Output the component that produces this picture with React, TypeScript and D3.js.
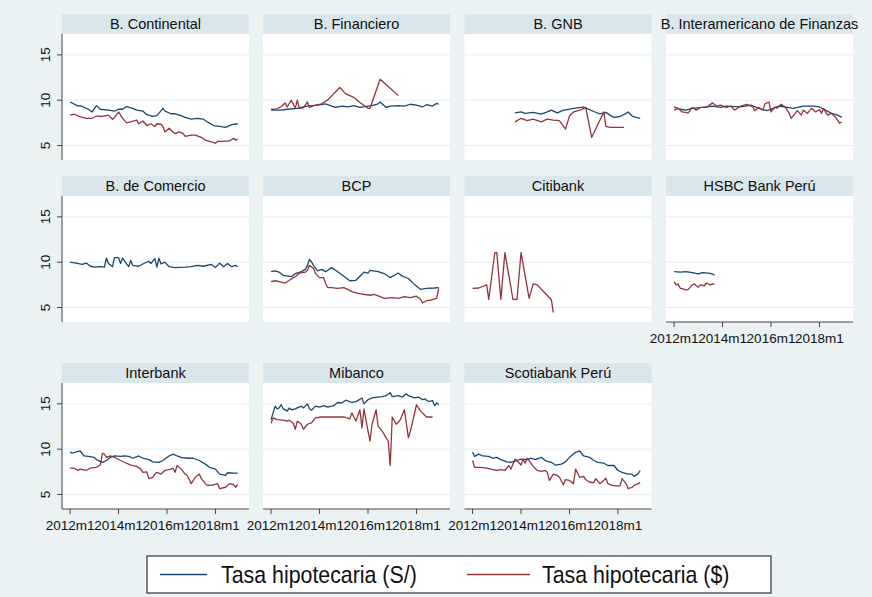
import React from "react";
import * as d3 from "d3";

type Pt = [string, number];

const seriesNames = ["Tasa hipotecaria (S/)", "Tasa hipotecaria ($)"];
const seriesColors = ["#1a476f", "#90353b"];
const yTicks = [5, 10, 15];
const xTicks = ["2012m1", "2014m1", "2016m1", "2018m1"];

// B. Continental
const contSol: Pt[] = [
  ["2012m1", 9.8], ["2012m5", 9.35], ["2012m6", 9.4], ["2012m10", 9.0], ["2012m12", 8.7],
  ["2013m2", 9.4], ["2013m4", 9.0], ["2013m8", 8.9], ["2013m11", 8.8], ["2014m1", 9.0],
  ["2014m3", 9.0], ["2014m5", 9.3], ["2014m8", 9.1], ["2014m10", 8.9], ["2015m1", 8.8],
  ["2015m3", 8.4], ["2015m6", 8.2], ["2015m8", 8.3], ["2015m11", 9.1], ["2015m12", 8.8],
  ["2016m3", 8.5], ["2016m5", 8.5], ["2016m8", 8.3], ["2016m10", 8.1], ["2017m1", 7.9],
  ["2017m4", 8.0], ["2017m7", 7.9], ["2017m9", 7.6], ["2017m12", 7.2], ["2018m3", 7.1],
  ["2018m6", 7.0], ["2018m9", 7.3], ["2018m12", 7.4],
];
const contUsd: Pt[] = [
  ["2012m1", 8.35], ["2012m3", 8.45], ["2012m6", 8.15], ["2012m9", 8.0], ["2012m12", 8.0],
  ["2013m2", 8.25], ["2013m5", 8.2], ["2013m8", 8.35], ["2013m10", 7.9], ["2013m11", 8.1],
  ["2014m1", 8.7], ["2014m3", 8.0], ["2014m5", 7.5], ["2014m7", 7.6], ["2014m10", 7.8],
  ["2014m11", 7.4], ["2015m1", 7.7], ["2015m3", 7.2], ["2015m5", 7.4], ["2015m7", 7.1],
  ["2015m8", 7.4], ["2015m10", 7.35], ["2015m11", 7.1], ["2015m12", 6.5], ["2016m2", 6.9],
  ["2016m4", 6.5], ["2016m5", 6.3], ["2016m7", 6.5], ["2016m9", 6.3], ["2016m10", 6.0],
  ["2017m1", 6.15], ["2017m3", 6.15], ["2017m6", 5.9], ["2017m8", 5.6], ["2017m11", 5.4],
  ["2018m1", 5.25], ["2018m2", 5.45], ["2018m5", 5.45], ["2018m8", 5.5], ["2018m10", 5.8],
  ["2018m11", 5.6], ["2018m12", 5.7],
];

// B. Financiero
const finSol: Pt[] = [
  ["2012m1", 8.9], ["2012m6", 8.9], ["2012m9", 9.0], ["2013m2", 9.1], ["2013m5", 9.25],
  ["2013m7", 9.35], ["2013m12", 9.45], ["2014m4", 9.6], ["2014m7", 9.35], ["2014m9", 9.2],
  ["2014m12", 9.35], ["2015m3", 9.25], ["2015m6", 9.4], ["2015m9", 9.2], ["2016m1", 9.35],
  ["2016m3", 9.4], ["2016m6", 9.6], ["2016m7", 9.8], ["2016m10", 9.2], ["2016m12", 9.35],
  ["2017m4", 9.4], ["2017m7", 9.35], ["2017m10", 9.55], ["2018m1", 9.45], ["2018m4", 9.25],
  ["2018m6", 9.5], ["2018m9", 9.35], ["2018m11", 9.65], ["2018m12", 9.55],
];
const finUsd: Pt[] = [
  ["2012m1", 9.0], ["2012m4", 9.05], ["2012m6", 9.3], ["2012m8", 9.7], ["2012m9", 9.25],
  ["2012m11", 10.0], ["2013m1", 9.1], ["2013m2", 10.0], ["2013m3", 9.1], ["2013m5", 9.15],
  ["2013m7", 9.8], ["2013m8", 9.2], ["2013m10", 9.4], ["2014m2", 9.6], ["2014m5", 10.0],
  ["2014m11", 11.4], ["2015m2", 10.7], ["2015m6", 10.3], ["2015m9", 9.75], ["2016m1", 9.1],
  ["2016m2", 9.1], ["2016m7", 12.3], ["2016m11", 11.5], ["2017m4", 10.5],
];

// B. GNB
const gnbSol: Pt[] = [
  ["2013m10", 8.6], ["2014m1", 8.7], ["2014m3", 8.55], ["2014m7", 8.65], ["2014m11", 8.45],
  ["2015m2", 8.7], ["2015m4", 8.9], ["2015m7", 8.6], ["2015m10", 8.9], ["2016m1", 9.0],
  ["2016m3", 9.1], ["2016m7", 9.2], ["2016m8", 9.25], ["2016m10", 9.05], ["2017m1", 8.75],
  ["2017m4", 8.5], ["2017m7", 8.65], ["2017m9", 8.35], ["2017m11", 8.1], ["2018m2", 8.2],
  ["2018m5", 8.55], ["2018m6", 8.7], ["2018m8", 8.25], ["2018m10", 8.1], ["2018m12", 8.0],
];
const gnbUsd: Pt[] = [
  ["2013m10", 7.6], ["2014m1", 8.0], ["2014m4", 7.75], ["2014m7", 7.9], ["2014m11", 7.6],
  ["2015m2", 7.9], ["2015m5", 7.8], ["2015m8", 7.75], ["2015m11", 6.8], ["2016m1", 8.25],
  ["2016m3", 8.7], ["2016m7", 8.95], ["2016m9", 9.2], ["2016m12", 5.9], ["2017m6", 8.7],
  ["2017m7", 7.1], ["2017m9", 7.0], ["2018m4", 7.0],
];

// B. Interamericano de Finanzas
const bifSol: Pt[] = [
  ["2012m1", 9.25], ["2012m4", 9.0], ["2012m7", 8.9], ["2012m10", 9.1], ["2013m3", 9.2],
  ["2013m8", 9.35], ["2013m12", 9.2], ["2014m3", 9.35], ["2014m10", 9.25], ["2015m3", 9.45],
  ["2015m8", 9.0], ["2015m11", 8.85], ["2016m2", 9.1], ["2016m5", 9.35], ["2016m9", 9.2],
  ["2016m12", 9.1], ["2017m5", 9.35], ["2017m10", 9.35], ["2018m1", 9.25], ["2018m4", 8.9],
  ["2018m7", 8.55], ["2018m10", 8.35], ["2018m12", 8.1],
];
const bifUsd: Pt[] = [
  ["2012m1", 8.9], ["2012m3", 9.1], ["2012m5", 8.7], ["2012m8", 8.6], ["2012m10", 9.2],
  ["2012m12", 8.9], ["2013m2", 9.2], ["2013m5", 9.2], ["2013m8", 9.7], ["2013m10", 9.35],
  ["2013m12", 9.45], ["2014m3", 9.2], ["2014m5", 9.35], ["2014m7", 8.9], ["2014m10", 9.35],
  ["2015m1", 9.55], ["2015m4", 9.25], ["2015m5", 8.85], ["2015m7", 9.2], ["2015m9", 8.9],
  ["2015m10", 9.6], ["2015m12", 9.8], ["2016m1", 8.7], ["2016m3", 9.25], ["2016m4", 9.1],
  ["2016m6", 9.55], ["2016m8", 9.25], ["2016m10", 8.55], ["2016m11", 8.0], ["2017m1", 8.55],
  ["2017m2", 8.85], ["2017m4", 8.35], ["2017m5", 8.9], ["2017m7", 8.55], ["2017m9", 9.1],
  ["2017m11", 8.7], ["2018m1", 8.95], ["2018m2", 8.55], ["2018m3", 9.1], ["2018m5", 8.35],
  ["2018m7", 8.55], ["2018m9", 8.1], ["2018m11", 7.45], ["2018m12", 7.6],
];

// B. de Comercio
const comSol: Pt[] = [
  ["2012m1", 10.0], ["2012m4", 9.9], ["2012m7", 9.75], ["2012m9", 9.9], ["2012m11", 9.55],
  ["2013m1", 9.45], ["2013m4", 9.5], ["2013m6", 9.45], ["2013m7", 10.45], ["2013m8", 9.85],
  ["2013m10", 9.5], ["2013m11", 10.5], ["2014m1", 10.5], ["2014m2", 9.85], ["2014m3", 10.45],
  ["2014m5", 9.8], ["2014m6", 9.5], ["2014m7", 10.2], ["2014m8", 9.65], ["2014m11", 9.55],
  ["2015m1", 9.8], ["2015m4", 10.1], ["2015m5", 9.85], ["2015m7", 10.4], ["2015m8", 9.45],
  ["2015m9", 10.45], ["2015m10", 9.8], ["2015m12", 10.0], ["2016m2", 9.5], ["2016m5", 9.4],
  ["2016m10", 9.45], ["2017m1", 9.5], ["2017m4", 9.65], ["2017m7", 9.55], ["2017m11", 9.75],
  ["2018m1", 9.4], ["2018m3", 9.9], ["2018m5", 9.5], ["2018m7", 9.85], ["2018m9", 9.5],
  ["2018m11", 9.65], ["2018m12", 9.5],
];

// BCP
const bcpSol: Pt[] = [
  ["2012m1", 8.95], ["2012m3", 9.05], ["2012m5", 8.9], ["2012m7", 8.55], ["2012m11", 8.4],
  ["2013m1", 8.75], ["2013m4", 8.95], ["2013m6", 9.2], ["2013m7", 9.65], ["2013m8", 10.3],
  ["2013m9", 10.05], ["2013m10", 9.65], ["2013m12", 9.05], ["2014m2", 9.2], ["2014m4", 8.95],
  ["2014m7", 9.4], ["2014m10", 8.95], ["2015m1", 8.45], ["2015m4", 7.95], ["2015m7", 8.0],
  ["2015m9", 8.45], ["2015m11", 8.9], ["2016m1", 8.8], ["2016m2", 9.1], ["2016m6", 8.95],
  ["2016m9", 8.75], ["2016m12", 8.3], ["2017m4", 8.8], ["2017m6", 8.45], ["2017m9", 8.2],
  ["2017m12", 7.55], ["2018m3", 7.0], ["2018m6", 7.1], ["2018m10", 7.15], ["2018m12", 7.2],
];
const bcpUsd: Pt[] = [
  ["2012m1", 7.85], ["2012m3", 7.95], ["2012m5", 7.85], ["2012m8", 7.7], ["2012m10", 8.0],
  ["2013m1", 8.4], ["2013m3", 8.8], ["2013m6", 8.9], ["2013m7", 9.1], ["2013m8", 9.65],
  ["2013m10", 9.3], ["2013m11", 8.75], ["2014m1", 8.3], ["2014m3", 8.3], ["2014m4", 7.65],
  ["2014m5", 7.2], ["2014m7", 7.2], ["2014m10", 7.1], ["2015m1", 7.2], ["2015m3", 7.0],
  ["2015m5", 6.75], ["2015m8", 6.55], ["2015m11", 6.45], ["2016m2", 6.35], ["2016m4", 6.45],
  ["2016m7", 6.2], ["2016m9", 6.0], ["2017m1", 6.1], ["2017m4", 6.0], ["2017m7", 6.2],
  ["2017m10", 6.1], ["2018m1", 6.25], ["2018m3", 5.9], ["2018m4", 5.5], ["2018m6", 5.75],
  ["2018m8", 5.8], ["2018m11", 6.0], ["2018m12", 7.1],
];

// Citibank
const citiUsd: Pt[] = [
  ["2012m1", 7.1], ["2012m4", 7.15], ["2012m8", 7.5], ["2012m9", 5.9], ["2012m12", 11.05],
  ["2013m1", 11.05], ["2013m3", 5.9], ["2013m5", 11.05], ["2013m9", 5.9], ["2013m11", 5.9],
  ["2014m1", 11.05], ["2014m5", 6.0], ["2014m7", 7.6], ["2014m9", 7.5], ["2014m12", 6.8],
  ["2015m4", 5.85], ["2015m5", 4.45],
];

// HSBC Bank Perú
const hsbcSol: Pt[] = [
  ["2012m1", 8.95], ["2012m4", 8.9], ["2012m7", 8.95], ["2012m10", 8.85], ["2013m1", 8.7],
  ["2013m3", 8.85], ["2013m6", 8.8], ["2013m8", 8.7], ["2013m9", 8.55],
];
const hsbcUsd: Pt[] = [
  ["2012m1", 7.85], ["2012m2", 7.5], ["2012m3", 7.6], ["2012m4", 7.15], ["2012m7", 6.95],
  ["2012m8", 7.0], ["2012m10", 7.5], ["2012m11", 7.6], ["2012m12", 7.4], ["2013m1", 7.25],
  ["2013m2", 7.5], ["2013m4", 7.4], ["2013m5", 7.7], ["2013m7", 7.5], ["2013m8", 7.6],
  ["2013m9", 7.55],
];

// Interbank
const ibkSol: Pt[] = [
  ["2012m1", 9.7], ["2012m2", 9.55], ["2012m4", 9.7], ["2012m6", 9.8], ["2012m8", 9.25],
  ["2012m10", 9.2], ["2013m1", 9.1], ["2013m2", 8.85], ["2013m5", 8.55], ["2013m7", 8.75],
  ["2013m9", 9.1], ["2013m11", 9.25], ["2014m2", 9.2], ["2014m4", 9.25], ["2014m6", 9.2],
  ["2014m8", 9.0], ["2014m11", 9.25], ["2015m1", 9.0], ["2015m4", 8.85], ["2015m6", 8.6],
  ["2015m9", 8.55], ["2015m11", 8.75], ["2016m2", 9.25], ["2016m4", 9.45], ["2016m6", 9.25],
  ["2016m8", 9.1], ["2016m11", 9.0], ["2017m2", 9.0], ["2017m5", 8.75], ["2017m8", 8.35],
  ["2017m10", 8.0], ["2018m1", 7.8], ["2018m3", 7.25], ["2018m6", 7.1], ["2018m7", 7.4],
  ["2018m10", 7.35], ["2018m12", 7.35],
];
const ibkUsd: Pt[] = [
  ["2012m1", 7.9], ["2012m3", 7.9], ["2012m5", 7.65], ["2012m6", 7.8], ["2012m9", 7.65],
  ["2012m11", 7.9], ["2013m2", 8.0], ["2013m4", 8.25], ["2013m5", 9.55], ["2013m6", 9.45],
  ["2013m7", 9.1], ["2013m9", 9.25], ["2013m12", 9.0], ["2014m2", 8.75], ["2014m5", 8.45],
  ["2014m7", 8.25], ["2014m10", 8.1], ["2014m12", 7.8], ["2015m1", 7.45], ["2015m3", 7.5],
  ["2015m4", 6.75], ["2015m6", 6.9], ["2015m7", 7.25], ["2015m8", 7.45], ["2015m10", 7.25],
  ["2015m12", 7.65], ["2016m3", 7.8], ["2016m4", 7.9], ["2016m5", 7.45], ["2016m6", 8.2],
  ["2016m8", 7.8], ["2016m10", 7.25], ["2016m11", 7.1], ["2017m1", 6.2], ["2017m3", 6.9],
  ["2017m5", 7.25], ["2017m6", 6.75], ["2017m8", 6.2], ["2017m9", 6.0], ["2017m12", 6.05],
  ["2018m2", 6.2], ["2018m3", 5.65], ["2018m6", 5.8], ["2018m8", 6.2], ["2018m10", 6.1],
  ["2018m11", 5.8], ["2018m12", 6.1],
];

// Mibanco
const miSol: Pt[] = [
  ["2012m1", 13.25], ["2012m2", 14.0], ["2012m3", 14.75], ["2012m4", 14.45], ["2012m5", 14.55],
  ["2012m6", 14.9], ["2012m7", 14.45], ["2012m9", 14.2], ["2012m10", 14.55], ["2012m11", 14.35],
  ["2013m1", 14.45], ["2013m2", 14.55], ["2013m4", 14.75], ["2013m5", 14.55], ["2013m7", 15.0],
  ["2013m8", 14.45], ["2013m9", 14.3], ["2013m11", 14.75], ["2014m1", 14.65], ["2014m3", 14.8],
  ["2014m5", 14.65], ["2014m8", 14.8], ["2014m10", 15.15], ["2014m12", 15.1], ["2015m2", 15.4],
  ["2015m5", 15.15], ["2015m7", 15.25], ["2015m10", 15.65], ["2015m11", 15.0], ["2016m1", 15.45],
  ["2016m3", 15.65], ["2016m6", 15.75], ["2016m8", 15.8], ["2016m10", 15.9], ["2016m12", 16.25],
  ["2017m1", 15.8], ["2017m4", 15.9], ["2017m6", 15.75], ["2017m8", 16.1], ["2017m9", 15.9],
  ["2017m12", 15.65], ["2018m2", 15.75], ["2018m4", 15.45], ["2018m5", 15.55], ["2018m7", 15.25],
  ["2018m9", 15.35], ["2018m10", 14.8], ["2018m11", 15.1], ["2018m12", 14.9],
];
const miUsd: Pt[] = [
  ["2012m1", 12.85], ["2012m2", 13.45], ["2012m4", 13.25], ["2012m7", 13.2], ["2012m9", 13.1],
  ["2012m10", 13.2], ["2012m12", 12.85], ["2013m1", 12.2], ["2013m2", 13.1], ["2013m4", 12.75],
  ["2013m5", 12.2], ["2013m7", 12.75], ["2013m9", 12.9], ["2013m11", 13.45], ["2014m2", 13.55],
  ["2014m5", 13.55], ["2014m8", 13.55], ["2015m1", 13.55], ["2015m4", 13.35], ["2015m5", 14.0],
  ["2015m7", 13.1], ["2015m9", 14.35], ["2015m10", 12.35], ["2015m11", 14.45], ["2016m1", 12.0],
  ["2016m2", 10.9], ["2016m3", 12.75], ["2016m5", 14.35], ["2016m6", 12.55], ["2016m8", 12.0],
  ["2016m10", 11.25], ["2016m11", 10.9], ["2016m12", 8.2], ["2017m1", 13.55], ["2017m3", 12.75],
  ["2017m5", 13.25], ["2017m7", 14.35], ["2017m9", 11.25], ["2017m10", 12.0], ["2018m1", 14.9],
  ["2018m3", 14.2], ["2018m6", 13.55], ["2018m9", 13.55],
];

// Scotiabank Perú
const scoSol: Pt[] = [
  ["2012m1", 9.7], ["2012m2", 9.2], ["2012m4", 9.45], ["2012m6", 9.25], ["2012m9", 9.2],
  ["2012m11", 9.0], ["2013m1", 9.1], ["2013m3", 8.85], ["2013m6", 8.6], ["2013m8", 8.55],
  ["2013m11", 8.75], ["2014m1", 8.9], ["2014m4", 8.85], ["2014m6", 9.0], ["2014m8", 8.85],
  ["2014m11", 9.1], ["2015m1", 8.75], ["2015m4", 8.55], ["2015m6", 8.25], ["2015m9", 8.35],
  ["2015m11", 8.6], ["2016m1", 9.1], ["2016m4", 9.65], ["2016m6", 9.8], ["2016m8", 9.25],
  ["2016m11", 9.1], ["2017m1", 8.75], ["2017m3", 8.55], ["2017m6", 8.45], ["2017m8", 8.2],
  ["2017m11", 8.2], ["2018m1", 7.65], ["2018m3", 7.45], ["2018m6", 7.25], ["2018m8", 7.25],
  ["2018m9", 7.0], ["2018m11", 7.3], ["2018m12", 7.65],
];
const scoUsd: Pt[] = [
  ["2012m1", 8.75], ["2012m2", 8.0], ["2012m5", 8.0], ["2012m8", 7.9], ["2012m10", 7.8],
  ["2013m1", 7.65], ["2013m3", 7.75], ["2013m5", 7.65], ["2013m7", 8.2], ["2013m8", 7.8],
  ["2013m10", 8.9], ["2013m11", 8.75], ["2014m1", 8.25], ["2014m2", 8.9], ["2014m3", 8.45],
  ["2014m4", 9.0], ["2014m5", 8.75], ["2014m7", 8.1], ["2014m9", 7.65], ["2014m11", 7.55],
  ["2015m1", 7.65], ["2015m2", 7.45], ["2015m3", 6.55], ["2015m5", 7.25], ["2015m7", 7.1],
  ["2015m8", 6.9], ["2015m10", 6.05], ["2015m11", 6.65], ["2016m1", 6.55], ["2016m3", 6.2],
  ["2016m4", 7.8], ["2016m6", 6.9], ["2016m8", 7.0], ["2016m9", 6.65], ["2016m11", 6.35],
  ["2017m1", 6.3], ["2017m2", 6.75], ["2017m4", 6.2], ["2017m5", 6.35], ["2017m7", 6.8],
  ["2017m8", 6.2], ["2017m10", 6.0], ["2017m12", 5.95], ["2018m2", 5.95], ["2018m3", 6.75],
  ["2018m5", 6.2], ["2018m6", 5.65], ["2018m8", 5.8], ["2018m9", 6.0], ["2018m11", 6.2],
  ["2018m12", 6.3],
];

const banks: { name: string; sol: Pt[]; usd: Pt[] }[] = [
  { name: "B. Continental", sol: contSol, usd: contUsd },
  { name: "B. Financiero", sol: finSol, usd: finUsd },
  { name: "B. GNB", sol: gnbSol, usd: gnbUsd },
  { name: "B. Interamericano de Finanzas", sol: bifSol, usd: bifUsd },
  { name: "B. de Comercio", sol: comSol, usd: [] },
  { name: "BCP", sol: bcpSol, usd: bcpUsd },
  { name: "Citibank", sol: [], usd: citiUsd },
  { name: "HSBC Bank Perú", sol: hsbcSol, usd: hsbcUsd },
  { name: "Interbank", sol: ibkSol, usd: ibkUsd },
  { name: "Mibanco", sol: miSol, usd: miUsd },
  { name: "Scotiabank Perú", sol: scoSol, usd: scoUsd },
];

// "2012m1" -> months since 2012m1
const monthIdx = (s: string) => {
  const [y, m] = s.split("m").map(Number);
  return (y - 2012) * 12 + m - 1;
};

const W = 872;
const H = 597;
const colX = [62, 263, 464.5, 666];
const rowTop = [14, 176, 363];
const panelW = 187;
const titleH = 20;
const plotH = 126;
const font = "'Liberation Sans', Arial, sans-serif";

function Panel({ bank, i }: { bank: (typeof banks)[number]; i: number }) {
  const col = i % 4;
  const row = Math.floor(i / 4);
  const x0 = colX[col];
  const top = rowTop[row];
  const py = top + titleH;
  const showY = col === 0;
  const showX = row === 2 || i === 7;

  const x = d3.scaleLinear().domain([-4, 88.6]).range([x0, x0 + panelW]);
  const y = d3.scaleLinear().domain([3.4, 17.3]).range([py + plotH, py]);
  const line = d3
    .line<Pt>()
    .x((d) => x(monthIdx(d[0])))
    .y((d) => y(d[1]));

  return (
    <g>
      <rect x={x0} y={top} width={panelW} height={titleH} fill="#d9e6eb" />
      <text x={x0 + panelW / 2} y={top + 15.3} textAnchor="middle" fontSize={14.5} fill="#111">
        {bank.name}
      </text>
      <rect x={x0} y={py} width={panelW} height={plotH} fill="#ffffff" />
      {yTicks.map((t) => (
        <line key={t} x1={x0} x2={x0 + panelW} y1={y(t)} y2={y(t)} stroke="#e7eef0" strokeWidth={1} />
      ))}
      {[bank.sol, bank.usd].map((s, k) =>
        s.length ? (
          <path key={k} d={line(s) ?? ""} fill="none" stroke={seriesColors[k]} strokeWidth={1.3} strokeLinejoin="round" />
        ) : null
      )}
      {showY && (
        <g>
          <line x1={x0} x2={x0} y1={py} y2={py + plotH} stroke="#444" strokeWidth={1} />
          {yTicks.map((t) => (
            <g key={t}>
              <line x1={x0 - 5} x2={x0} y1={y(t)} y2={y(t)} stroke="#444" strokeWidth={1} />
              <text
                transform={`translate(${x0 - 12},${y(t)}) rotate(-90)`}
                textAnchor="middle"
                fontSize={13.5}
                fill="#111"
              >
                {t}
              </text>
            </g>
          ))}
        </g>
      )}
      {showX && (
        <g>
          <line x1={x0} x2={x0 + panelW} y1={py + plotH} y2={py + plotH} stroke="#444" strokeWidth={1} />
          {xTicks.map((t) => (
            <g key={t}>
              <line
                x1={x(monthIdx(t))}
                x2={x(monthIdx(t))}
                y1={py + plotH}
                y2={py + plotH + 5}
                stroke="#444"
                strokeWidth={1}
              />
              <text x={x(monthIdx(t))} y={py + plotH + 21} textAnchor="middle" fontSize={13.5} fill="#111">
                {t}
              </text>
            </g>
          ))}
        </g>
      )}
    </g>
  );
}

export default function App() {
  return (
    <svg
      width={W}
      height={H}
      style={{ position: "absolute", left: 0, top: 0, display: "block" }}
      fontFamily={font}
    >
      <rect x={0} y={0} width={W} height={H} fill="#eaf2f3" />
      {banks.map((b, i) => (
        <Panel key={b.name} bank={b} i={i} />
      ))}
      {/* Legend: condensed text like the original */}
      <g>
        <rect x={147} y={556} width={624} height={37} fill="#ffffff" stroke="#333" strokeWidth={1.2} />
        <line x1={160} x2={207} y1={574.5} y2={574.5} stroke={seriesColors[0]} strokeWidth={1.5} />
        <text transform="translate(221,583) scale(0.89,1)" fontSize={24} fill="#111">
          {seriesNames[0]}
        </text>
        <line x1={467} x2={530} y1={574.5} y2={574.5} stroke={seriesColors[1]} strokeWidth={1.5} />
        <text transform="translate(542,583) scale(0.89,1)" fontSize={24} fill="#111">
          {seriesNames[1]}
        </text>
      </g>
    </svg>
  );
}
